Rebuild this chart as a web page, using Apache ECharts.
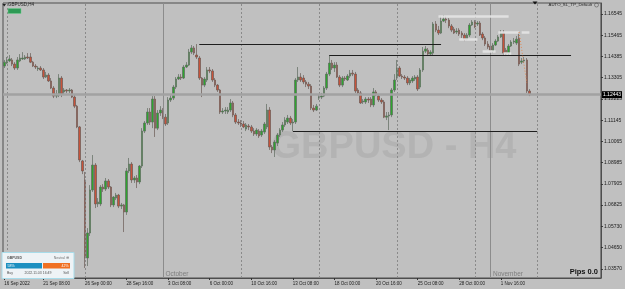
<!DOCTYPE html>
<html><head><meta charset="utf-8">
<script src="https://cdn.jsdelivr.net/npm/echarts@6/dist/echarts.min.js"></script>
<style>html,body{margin:0;padding:0;background:#c0c0c0;}#c{width:625px;height:289px;}</style>
</head><body><div id="c"></div>
<script>
const opens=[
1.1390,1.1405,1.1416,1.1421,1.1400,1.1380,1.1416,1.1426,1.1426,1.1436,
1.1436,1.1410,1.1390,1.1375,1.1380,1.1370,1.1334,1.1344,1.1314,1.1278,
1.1237,1.1242,1.1329,1.1258,1.1268,1.1263,1.1268,1.1232,1.1186,1.1080,
1.0907,1.0810,1.0413,1.0540,1.0759,1.0886,1.0688,1.0688,1.0774,1.0764,
1.0805,1.0774,1.0683,1.0718,1.0733,1.0677,1.0683,1.0647,1.0856,1.0891,
1.0810,1.0820,1.0800,1.0881,1.1059,1.1100,1.1156,1.1105,1.1222,1.1074,
1.1151,1.1161,1.1130,1.1100,1.1217,1.1227,1.1283,1.1324,1.1334,1.1329,
1.1385,1.1395,1.1461,1.1482,1.1446,1.1431,1.1329,1.1293,1.1319,1.1370,
1.1365,1.1319,1.1293,1.1268,1.1156,1.1161,1.1156,1.1166,1.1202,1.1141,
1.1105,1.1100,1.1095,1.1069,1.1085,1.1080,1.1059,1.1044,1.1059,1.1039,
1.1054,1.1080,1.1166,1.0978,1.0963,1.0998,1.1039,1.1064,1.1090,1.1105,
1.1125,1.1100,1.1105,1.1319,1.1334,1.1329,1.1309,1.1298,1.1288,1.1176,
1.1166,1.1227,1.1232,1.1237,1.1278,1.1349,1.1405,1.1380,1.1395,1.1334,
1.1293,1.1329,1.1319,1.1339,1.1354,1.1349,1.1268,1.1253,1.1207,1.1207,
1.1222,1.1222,1.1192,1.1258,1.1237,1.1217,1.1207,1.1130,1.1136,1.1141,
1.1268,1.1329,1.1380,1.1339,1.1334,1.1329,1.1304,1.1314,1.1324,1.1334,
1.1283,1.1370,1.1466,1.1471,1.1451,1.1456,1.1604,1.1573,1.1558,1.1619,
1.1629,1.1624,1.1594,1.1578,1.1563,1.1573,1.1558,1.1548,1.1527,1.1548,
1.1599,1.1614,1.1604,1.1609,1.1553,1.1533,1.1502,1.1492,1.1466,1.1497,
1.1517,1.1538,1.1558,1.1471,1.1456,1.1492,1.1512,1.1507,1.1533,1.1410,
1.1416,1.1421,1.1263];
const closes=[
1.1410,1.1421,1.1426,1.1400,1.1380,1.1421,1.1431,1.1431,1.1436,1.1431,
1.1410,1.1390,1.1385,1.1380,1.1370,1.1334,1.1344,1.1314,1.1278,1.1237,
1.1248,1.1329,1.1248,1.1268,1.1263,1.1268,1.1232,1.1186,1.1080,1.0912,
1.0856,1.0413,1.0540,1.0759,1.0886,1.0688,1.0698,1.0774,1.0764,1.0805,
1.0774,1.0683,1.0723,1.0733,1.0677,1.0683,1.0647,1.0856,1.0891,1.0810,
1.0820,1.0800,1.0881,1.1059,1.1100,1.1156,1.1105,1.1222,1.1074,1.1151,
1.1166,1.1130,1.1095,1.1217,1.1227,1.1283,1.1324,1.1334,1.1329,1.1385,
1.1395,1.1461,1.1482,1.1456,1.1436,1.1329,1.1293,1.1324,1.1370,1.1365,
1.1319,1.1293,1.1268,1.1156,1.1161,1.1166,1.1166,1.1202,1.1141,1.1105,
1.1100,1.1095,1.1080,1.1090,1.1080,1.1059,1.1044,1.1064,1.1034,1.1059,
1.1095,1.1166,1.0978,1.0963,1.1003,1.1039,1.1064,1.1090,1.1115,1.1125,
1.1100,1.1105,1.1319,1.1334,1.1319,1.1309,1.1298,1.1288,1.1176,1.1166,
1.1186,1.1232,1.1237,1.1278,1.1349,1.1405,1.1380,1.1395,1.1334,1.1293,
1.1329,1.1324,1.1339,1.1354,1.1349,1.1263,1.1253,1.1202,1.1212,1.1222,
1.1217,1.1192,1.1258,1.1248,1.1217,1.1207,1.1130,1.1136,1.1141,1.1268,
1.1319,1.1380,1.1339,1.1334,1.1329,1.1304,1.1319,1.1329,1.1334,1.1273,
1.1370,1.1466,1.1477,1.1451,1.1461,1.1604,1.1573,1.1558,1.1619,1.1629,
1.1624,1.1594,1.1573,1.1558,1.1568,1.1553,1.1548,1.1527,1.1548,1.1599,
1.1614,1.1589,1.1609,1.1548,1.1533,1.1502,1.1487,1.1471,1.1497,1.1517,
1.1538,1.1558,1.1456,1.1451,1.1492,1.1512,1.1517,1.1527,1.1400,1.1416,
1.1421,1.1263,1.1244];
const lows=[
1.1380,1.1400,1.1410,1.1390,1.1370,1.1370,1.1410,1.1421,1.1421,1.1426,
1.1405,1.1385,1.1375,1.1365,1.1365,1.1324,1.1329,1.1309,1.1273,1.1227,
1.1227,1.1232,1.1232,1.1248,1.1253,1.1253,1.1227,1.1176,1.1074,1.0901,
1.0840,1.0362,1.0372,1.0525,1.0749,1.0667,1.0672,1.0677,1.0749,1.0754,
1.0764,1.0672,1.0672,1.0708,1.0667,1.0662,1.0545,1.0632,1.0845,1.0795,
1.0795,1.0769,1.0789,1.0871,1.1049,1.1090,1.1090,1.1074,1.1029,1.1064,
1.1136,1.1120,1.1085,1.1090,1.1207,1.1217,1.1273,1.1319,1.1319,1.1324,
1.1380,1.1390,1.1451,1.1446,1.1426,1.1319,1.1232,1.1283,1.1309,1.1354,
1.1309,1.1283,1.1258,1.1146,1.1146,1.1146,1.1146,1.1156,1.1130,1.1095,
1.1090,1.1080,1.1074,1.1059,1.1064,1.1049,1.1034,1.1034,1.1024,1.1029,
1.1044,1.1069,1.0963,1.0947,1.0927,1.0983,1.1029,1.1054,1.1080,1.1095,
1.1090,1.1059,1.1095,1.1309,1.1309,1.1298,1.1283,1.1273,1.1166,1.1156,
1.1161,1.1217,1.1222,1.1232,1.1268,1.1339,1.1370,1.1360,1.1329,1.1283,
1.1283,1.1314,1.1314,1.1329,1.1339,1.1253,1.1242,1.1197,1.1197,1.1197,
1.1202,1.1181,1.1181,1.1237,1.1207,1.1197,1.1125,1.1115,1.1064,1.1130,
1.1258,1.1319,1.1334,1.1324,1.1319,1.1293,1.1293,1.1304,1.1314,1.1263,
1.1273,1.1360,1.1456,1.1441,1.1441,1.1446,1.1563,1.1548,1.1553,1.1614,
1.1609,1.1583,1.1563,1.1553,1.1553,1.1543,1.1533,1.1517,1.1522,1.1538,
1.1594,1.1583,1.1594,1.1543,1.1522,1.1492,1.1477,1.1461,1.1456,1.1492,
1.1512,1.1533,1.1446,1.1441,1.1446,1.1487,1.1502,1.1497,1.1390,1.1400,
1.1405,1.1253,1.1237];
const highs=[
1.1421,1.1436,1.1446,1.1431,1.1410,1.1436,1.1451,1.1461,1.1446,1.1456,
1.1456,1.1416,1.1400,1.1390,1.1390,1.1380,1.1360,1.1354,1.1329,1.1288,
1.1268,1.1349,1.1339,1.1278,1.1273,1.1278,1.1273,1.1242,1.1192,1.1085,
1.0912,1.0851,1.0565,1.0784,1.0937,1.0896,1.0718,1.0784,1.0789,1.0820,
1.0815,1.0779,1.0728,1.0744,1.0739,1.0693,1.0688,1.0871,1.0922,1.0901,
1.0830,1.0835,1.0886,1.1074,1.1110,1.1176,1.1176,1.1237,1.1237,1.1166,
1.1186,1.1176,1.1146,1.1232,1.1242,1.1293,1.1334,1.1349,1.1349,1.1395,
1.1410,1.1477,1.1497,1.1492,1.1502,1.1441,1.1334,1.1334,1.1385,1.1385,
1.1375,1.1329,1.1298,1.1273,1.1176,1.1181,1.1181,1.1222,1.1212,1.1151,
1.1120,1.1115,1.1110,1.1100,1.1095,1.1090,1.1074,1.1074,1.1069,1.1069,
1.1105,1.1197,1.1181,1.0988,1.1013,1.1049,1.1074,1.1105,1.1130,1.1141,
1.1136,1.1120,1.1329,1.1385,1.1354,1.1344,1.1319,1.1309,1.1298,1.1192,
1.1197,1.1242,1.1253,1.1288,1.1360,1.1446,1.1421,1.1410,1.1410,1.1344,
1.1339,1.1339,1.1349,1.1370,1.1370,1.1360,1.1278,1.1263,1.1222,1.1232,
1.1232,1.1232,1.1278,1.1268,1.1248,1.1227,1.1217,1.1156,1.1156,1.1278,
1.1349,1.1421,1.1390,1.1349,1.1344,1.1339,1.1329,1.1339,1.1344,1.1344,
1.1380,1.1487,1.1492,1.1482,1.1471,1.1614,1.1619,1.1594,1.1645,1.1650,
1.1645,1.1634,1.1604,1.1589,1.1583,1.1583,1.1568,1.1558,1.1558,1.1609,
1.1624,1.1624,1.1619,1.1619,1.1563,1.1543,1.1517,1.1502,1.1507,1.1527,
1.1548,1.1573,1.1573,1.1482,1.1502,1.1522,1.1533,1.1543,1.1563,1.1431,
1.1436,1.1431,1.1273];
const yTicks=[1.16545,1.15465,1.14385,1.13305,1.12225,1.11145,1.10065,1.08985,1.07905,1.06825,1.05730,1.04650,1.03570];
const tickLabels=['16 Sep 2022','21 Sep 08:00','26 Sep 00:00','28 Sep 16:00','3 Oct 08:00','6 Oct 00:00','10 Oct 16:00','13 Oct 08:00','18 Oct 00:00','20 Oct 16:00','25 Oct 08:00','28 Oct 00:00','1 Nov 16:00'];
const weekLines=[1,31,91,121,151,181,205];
const monthLines=[61,187];
const monthNames=['October','November'];
const currentPrice=1.12443;
const levels=[[75,168,1.1502],[125,218,1.1446],[111,205,1.1059]];
const highlights=[[167,194,1.1645],[175,182,1.1525],[184,189,1.1464],[192,195,1.1454],[190,198,1.1563],[199,202,1.1563]];
const trendLine=[[198,1.1563],[201,1.1304]];

// H4 time categories (weekdays only)
const mon=['Jan','Feb','Mar','Apr','May','Jun','Jul','Aug','Sep','Oct','Nov','Dec'];
const cats=[];
let t=Date.UTC(2022,8,16,20);
while(cats.length<230){
  const d=new Date(t);const wd=d.getUTCDay();
  if(wd!==0&&wd!==6){const h=d.getUTCHours();cats.push(d.getUTCDate()+' '+mon[d.getUTCMonth()]+' '+(h<10?'0':'')+h+':00');}
  t+=4*3600e3;
}
const showTick=(i,v)=>i===0||tickLabels.indexOf(v)>=0;
const candles=opens.map((o,i)=>[o,closes[i],lows[i],highs[i]]);

const bgLines=[];
weekLines.forEach(x=>bgLines.push({xAxis:x,lineStyle:{color:'#8a8a8a',type:[2,2],width:1}}));
monthLines.forEach(x=>bgLines.push({xAxis:x,lineStyle:{color:'#8c8c8c',type:'solid',width:1}}));
bgLines.push({yAxis:currentPrice,lineStyle:{color:'#a2a2a2',type:'solid',width:2.5},
  label:{show:true,position:'end',distance:1,formatter:currentPrice.toFixed(5),backgroundColor:'#000',color:'#fff',fontSize:5,padding:[1,1],fontFamily:'Liberation Sans'}});

const fgLines=[];
highlights.forEach(h=>fgLines.push([{coord:[h[0],h[2]],lineStyle:{color:'#e4e4e4',width:2.5,type:'solid',opacity:0.9}},{coord:[h[1],h[2]]}]));
levels.forEach(l=>fgLines.push([{coord:[l[0],l[2]],lineStyle:{color:'#1e1e1e',width:1.2,type:'solid'}},{coord:[l[1],l[2]]}]));
fgLines.push([{coord:trendLine[0],lineStyle:{color:'#e08a55',width:1,type:[1,2]}},{coord:trendLine[1]}]);

const chart=echarts.init(document.getElementById('c'),null,{renderer:'canvas'});
const FF='Liberation Sans';
chart.setOption({
  animation:false,
  backgroundColor:'#c0c0c0',
  textStyle:{fontFamily:FF},
  grid:{left:3,right:24,top:3,bottom:11,show:true,borderColor:'#4e4e4e',borderWidth:1,backgroundColor:'transparent'},
  xAxis:{type:'category',data:cats,boundaryGap:true,
    axisLine:{show:true,lineStyle:{color:'#4e4e4e'}},
    axisTick:{show:true,interval:showTick,alignWithLabel:true,length:2,lineStyle:{color:'#333'}},
    axisLabel:{interval:showTick,formatter:(v,i)=>i===0?tickLabels[0]:v,fontSize:4.5,align:'left',margin:3,color:'#1a1a1a',fontFamily:FF},
    splitLine:{show:false}},
  yAxis:{type:'value',position:'right',min:1.0311,max:1.1711,scale:true,
    splitLine:{show:false},
    axisLine:{show:true,lineStyle:{color:'#4e4e4e'}},
    axisTick:{show:true,customValues:yTicks,length:2,lineStyle:{color:'#333'}},
    axisLabel:{customValues:yTicks,formatter:v=>v.toFixed(5),fontSize:5,color:'#1a1a1a',margin:3,fontFamily:FF}},
  series:[
    {type:'line',data:cats.map(()=>null),z:1,silent:true,showSymbol:false,
     markLine:{silent:true,symbol:'none',precision:5,animation:false,label:{show:false},data:bgLines}},
    {type:'candlestick',z:3,barWidth:2,data:candles,silent:true,
     itemStyle:{color:'#2ea42e',color0:'#c8533a',borderColor:'#5f6a5f',borderColor0:'#6a5a55',borderWidth:0.7},
     markLine:{silent:true,symbol:'none',precision:5,animation:false,label:{show:false},data:fgLines}}
  ]
});

const px=i=>chart.convertToPixel({xAxisIndex:0},i);
const g=[
  {type:'text',z:0,style:{text:'GBPUSD - H4',x:394,y:148,align:'center',verticalAlign:'middle',fill:'#b3b3b3',font:'bold 38px "Liberation Sans"'}},
  {type:'polygon',z:10,shape:{points:[[2.5,4],[6,4],[4.25,6.5]]},style:{fill:'#222'}},
  {type:'text',z:10,style:{text:'GBPUSD,H4',x:8,y:5,verticalAlign:'middle',fill:'#222',font:'4.5px "Liberation Sans"'}},
  {type:'rect',z:10,shape:{x:8,y:8.5,width:13,height:5},style:{fill:'#2e9a55',stroke:'#6fcf8f',lineWidth:0.5}},
  {type:'text',z:10,style:{text:'AUTO_SL_TP_Default',x:592,y:5,align:'right',verticalAlign:'middle',fill:'#222',font:'4.3px "Liberation Sans"'}},
  {type:'circle',z:10,shape:{cx:596.5,cy:5,r:2},style:{fill:'none',stroke:'#555',lineWidth:0.6}},
  {type:'polygon',z:10,shape:{points:[[532.5,1.5],[537.5,1.5],[535,4.5]]},style:{fill:'#111'}},
  {type:'text',z:10,style:{text:'Pips 0.0',x:598,y:272,align:'right',verticalAlign:'middle',fill:'#111',font:'bold 7.5px "Liberation Sans"'}},
  {type:'rect',z:10,shape:{x:2,y:252.5,width:72,height:26},style:{fill:'#eef3f6',stroke:'#a8dcea',lineWidth:1}},
  {type:'text',z:11,style:{text:'GBPUSD',x:7,y:258,verticalAlign:'middle',fill:'#555',font:'bold 3.5px "Liberation Sans"'}},
  {type:'text',z:11,style:{text:'Neutral ⊕',x:69,y:258,align:'right',verticalAlign:'middle',fill:'#777',font:'3.5px "Liberation Sans"'}},
  {type:'rect',z:11,shape:{x:6,y:263,width:36,height:5.5},style:{fill:'#1c8fc0'}},
  {type:'rect',z:11,shape:{x:43,y:263,width:27,height:5.5},style:{fill:'#f07022'}},
  {type:'text',z:12,style:{text:'58%',x:7.5,y:265.8,verticalAlign:'middle',fill:'#fff',font:'3.5px "Liberation Sans"'}},
  {type:'text',z:12,style:{text:'42%',x:68.5,y:265.8,align:'right',verticalAlign:'middle',fill:'#fff',font:'3.5px "Liberation Sans"'}},
  {type:'text',z:11,style:{text:'Buy',x:7,y:273,verticalAlign:'middle',fill:'#555',font:'3.5px "Liberation Sans"'}},
  {type:'text',z:11,style:{text:'2022.11.03 16:49',x:38,y:273,align:'center',verticalAlign:'middle',fill:'#555',font:'3.5px "Liberation Sans"'}},
  {type:'text',z:11,style:{text:'Sell',x:69,y:273,align:'right',verticalAlign:'middle',fill:'#555',font:'3.5px "Liberation Sans"'}}
];
monthLines.forEach((m,k)=>{
  g.push({type:'text',z:5,style:{text:monthNames[k],x:px(m)+2.5,y:274.5,verticalAlign:'middle',fill:'#7e7e7e',font:'6.5px "Liberation Sans"'}});
});
chart.setOption({graphic:g});
</script>
</body></html>
